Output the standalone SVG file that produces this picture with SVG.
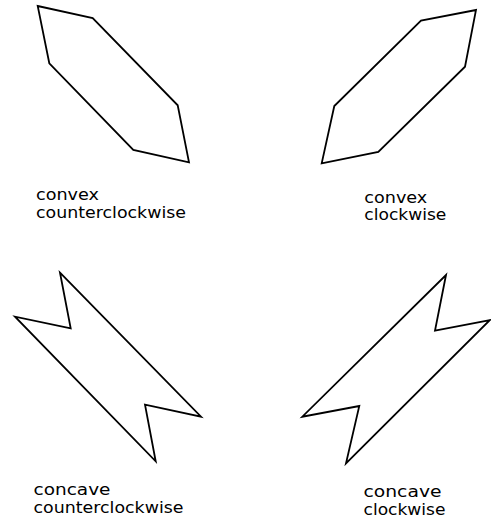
<svg xmlns="http://www.w3.org/2000/svg" width="491" height="518" viewBox="0 0 491 518">
<style>
.shape{fill:none;stroke:#000;stroke-width:1.8;stroke-linejoin:miter}
.lbl{font-family:"DejaVu Sans","Liberation Sans",sans-serif;font-size:15px;fill:#000}
</style>
<rect width="491" height="518" fill="#fff"/>
<g id="convex-ccw">
<polygon class="shape" points="37.7,6 92.7,18 177.7,105.3 189,162.3 133.3,150 49.3,63.3"/>
<text class="lbl" x="36" y="200" textLength="63" lengthAdjust="spacingAndGlyphs">convex</text>
<text class="lbl" x="36" y="217.5" textLength="150" lengthAdjust="spacingAndGlyphs">counterclockwise</text>
</g>
<g id="convex-cw">
<polygon class="shape" points="476,10 421,20.7 334.3,106 321.7,163.3 378.3,152 465,66.7"/>
<text class="lbl" x="364.3" y="202.5" textLength="63" lengthAdjust="spacingAndGlyphs">convex</text>
<text class="lbl" x="364.3" y="220" textLength="82" lengthAdjust="spacingAndGlyphs">clockwise</text>
</g>
<g id="concave-ccw">
<polygon class="shape" points="60,272.7 201,416.7 145,404.7 155.7,461.3 15,316.7 70.7,328.3"/>
<text class="lbl" x="33.5" y="495" textLength="77" lengthAdjust="spacingAndGlyphs">concave</text>
<text class="lbl" x="33.5" y="513.3" textLength="150" lengthAdjust="spacingAndGlyphs">counterclockwise</text>
</g>
<g id="concave-cw">
<polygon class="shape" points="446,275 435,330.7 490,320 346,463.3 359.3,406 302.3,416.7"/>
<text class="lbl" x="363.5" y="497" textLength="78" lengthAdjust="spacingAndGlyphs">concave</text>
<text class="lbl" x="363.5" y="514.5" textLength="82" lengthAdjust="spacingAndGlyphs">clockwise</text>
</g>
</svg>
